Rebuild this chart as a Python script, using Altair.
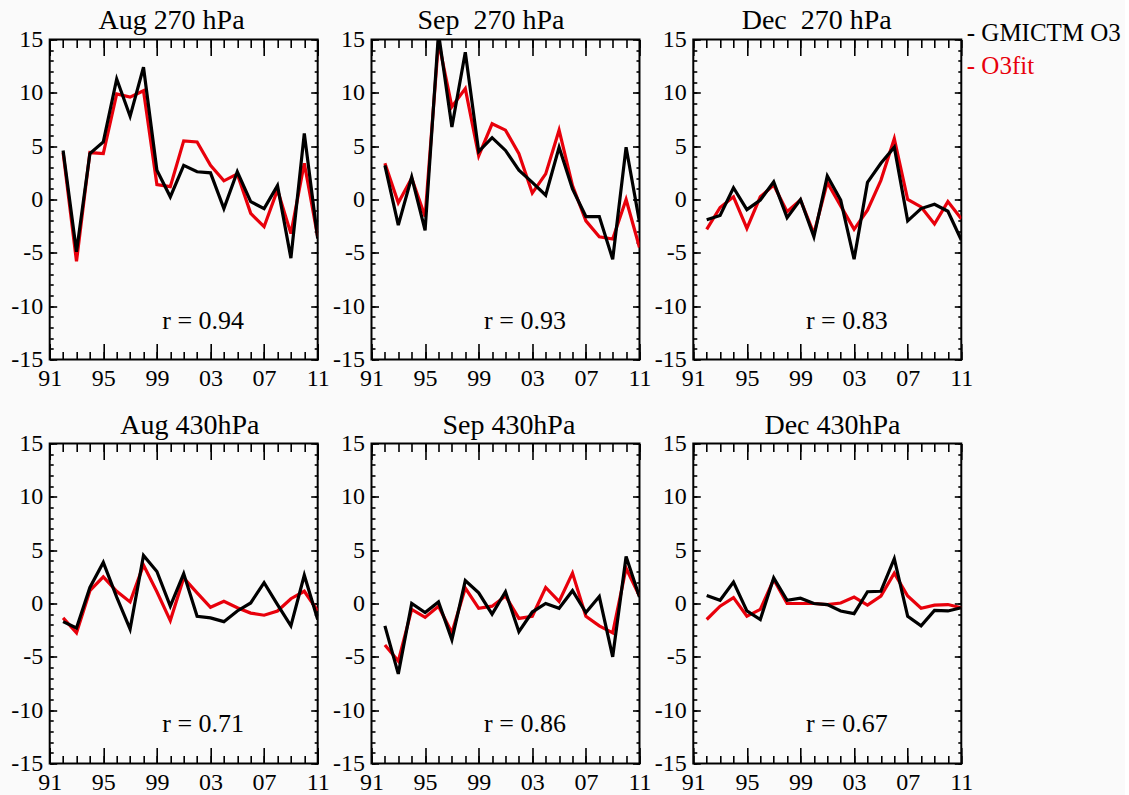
import altair as alt
import pandas as pd

FONT = "Liberation Serif"
RED = "#e8000b"

years = list(range(1992, 2012))

aug270_model = [4.6, -4.9, 4.3, 5.4, 11.3, 7.8, 12.4, 2.75, 0.25, 3.2, 2.6, 2.5, -0.85, 2.6, -0.2, -0.85, 1.3, -5.5, 6.2, -3.65]
aug270_fit = [4.4, -5.8, 4.4, 4.3, 9.9, 9.6, 10.2, 1.4, 1.2, 5.5, 5.4, 3.2, 1.75, 2.4, -1.3, -2.55, 0.9, -3.2, 3.4, -3.5]

sep270_model = [3.2, -2.4, 2.1, -2.9, 15.6, 6.8, 13.8, 4.5, 5.8, 4.6, 2.75, 1.6, 0.4, 4.9, 1.0, -1.6, -1.6, -5.6, 4.9, -2.1]
sep270_fit = [3.4, -0.3, 2.0, -1.6, 14.8, 8.7, 10.4, 4.1, 7.1, 6.5, 4.3, 0.6, 2.4, 6.5, 1.3, -2.0, -3.5, -3.7, 0.0, -4.5]

dec270_model = [-1.9, -1.5, 1.1, -0.95, -0.05, 1.65, -1.7, 0.0, -3.5, 2.2, -0.05, -5.6, 1.6, 3.4, 4.9, -2.0, -0.85, -0.45, -1.1, -3.8]
dec270_fit = [-2.8, -0.75, 0.25, -2.7, 0.25, 1.35, -1.15, -0.05, -3.2, 1.6, -0.6, -2.8, -1.0, 1.8, 5.7, 0.0, -0.7, -2.3, -0.2, -1.8]

aug430_model = [-1.7, -2.3, 1.5, 3.85, 0.6, -2.4, 4.5, 3.0, -0.25, 2.8, -1.2, -1.35, -1.7, -0.7, 0.05, 1.95, -0.1, -2.1, 2.65, -1.5]
aug430_fit = [-1.35, -2.75, 1.2, 2.5, 1.15, 0.15, 3.6, 1.1, -1.6, 2.4, 1.0, -0.35, 0.2, -0.4, -0.9, -1.1, -0.7, 0.45, 1.15, -0.7]

sep430_model = [-2.1, -6.6, 0.0, -0.85, 0.15, -3.4, 2.15, 1.0, -1.0, 1.1, -2.65, -0.8, 0.0, -0.45, 1.2, -0.85, 0.65, -5.0, 4.4, 0.6]
sep430_fit = [-3.9, -5.4, -0.55, -1.3, -0.25, -2.75, 1.45, -0.45, -0.25, 0.7, -1.4, -1.2, 1.5, 0.2, 2.85, -1.2, -2.1, -2.75, 3.3, 0.7]

dec430_model = [0.75, 0.3, 2.0, -0.7, -1.5, 2.4, 0.3, 0.5, 0.0, -0.1, -0.7, -0.95, 1.1, 1.15, 4.2, -1.2, -2.1, -0.65, -0.7, -0.4]
dec430_fit = [-1.5, -0.25, 0.55, -1.2, -0.55, 2.25, 0.0, 0.0, 0.0, -0.1, 0.05, 0.6, -0.15, 0.7, 2.85, 0.7, -0.45, -0.15, -0.1, -0.4]

titles = ["Aug 270 hPa", "Sep\u00a0 270 hPa", "Dec\u00a0 270 hPa", "Aug 430hPa", "Sep 430hPa", "Dec 430hPa"]
r_values = ["0.94", "0.93", "0.83", "0.71", "0.86", "0.67"]
legend_labels = ["- GMICTM O3", "- O3fit"]

x_major = [1991, 1995, 1999, 2003, 2007, 2011]
x_minor = list(range(1991, 2012))
y_major = [-15, -10, -5, 0, 5, 10, 15]
y_minor = list(range(-15, 16))

W, H = 268, 320

xs = alt.Scale(domain=[1991, 2011], nice=False, zero=False)
ys = alt.Scale(domain=[-15, 15], nice=False, zero=False)


def axis(orient, values, size, labels, is_x):
    kw = dict(orient=orient, values=values, tickSize=size, offset=-size,
              domain=False, grid=False, labels=labels, title=None,
              tickColor="black", tickWidth=1.6)
    if labels:
        kw.update(labelFont=FONT, labelFontSize=24, labelColor="black",
                  labelFlush=False, labelOverlap=False)
        if is_x:
            kw.update(labelExpr="format(datum.value % 100, '02d')", labelPadding=7)
        else:
            kw.update(labelExpr="'' + datum.value", labelPadding=7)
    return alt.Axis(**kw)


def text_layer(txt, x, y, align="center", color="black", size=25, baseline="middle"):
    return alt.Chart(pd.DataFrame({"t": [txt]})).mark_text(
        font=FONT, fontSize=size, align=align, baseline=baseline, color=color
    ).encode(text="t:N", x=alt.value(x), y=alt.value(y))


def panel(title, tx, ty, model, fit, r, legend=False):
    df = pd.DataFrame({"year": years, "model": model, "fit": fit})
    base = alt.Chart(df)
    red = base.mark_line(color=RED, strokeWidth=3.2, clip=True).encode(
        x=alt.X("year:Q", scale=xs, axis=axis("bottom", x_major, 16, True, True)),
        y=alt.Y("fit:Q", scale=ys, axis=axis("left", y_major, 7, True, False)),
    )
    black = base.mark_line(color="black", strokeWidth=3.2, clip=True).encode(
        x=alt.X("year:Q", scale=xs, axis=axis("bottom", x_minor, 8, False, True)),
        y=alt.Y("model:Q", scale=ys, axis=axis("left", y_minor, 3.5, False, False)),
    )
    inv1 = base.mark_line(opacity=0).encode(
        x=alt.X("year:Q", scale=xs, axis=axis("top", x_major, 16, False, True)),
        y=alt.Y("model:Q", scale=ys, axis=axis("right", y_major, 7, False, False)),
    )
    inv2 = base.mark_line(opacity=0).encode(
        x=alt.X("year:Q", scale=xs, axis=axis("top", x_minor, 8, False, True)),
        y=alt.Y("model:Q", scale=ys, axis=axis("right", y_minor, 3.5, False, False)),
    )
    layers = [red, black, inv1, inv2,
              text_layer("r = " + r, 153.5, 281, size=26),
              text_layer(title, tx, ty, size=28, baseline="alphabetic")]
    if legend:
        layers += [text_layer(legend_labels[0], 273.5, -7, align="left"),
                   text_layer(legend_labels[1], 273.5, 26, align="left", color=RED)]
    return alt.layer(*layers).resolve_axis(x="independent", y="independent").properties(
        width=W, height=H)


panels = [
    panel(titles[0], 121.8, -11, aug270_model, aug270_fit, r_values[0]),
    panel(titles[1], 119.4, -11, sep270_model, sep270_fit, r_values[1]),
    panel(titles[2], 123.4, -11, dec270_model, dec270_fit, r_values[2], legend=True),
    panel(titles[3], 140.1, -9.5, aug430_model, aug430_fit, r_values[3]),
    panel(titles[4], 137.4, -9.5, sep430_model, sep430_fit, r_values[4]),
    panel(titles[5], 139.2, -9.5, dec430_model, dec430_fit, r_values[5]),
]

chart = alt.concat(
    *panels, columns=3, spacing={"row": 84, "column": 53.8}, bounds="flush"
).configure_view(
    stroke="black", strokeWidth=2
).properties(
    background="#fafafa",
    padding={"left": 9.7, "top": 5.5, "right": 2, "bottom": 2},
)

chart.save("out.html", embed_options={"renderer": "svg", "actions": False})
